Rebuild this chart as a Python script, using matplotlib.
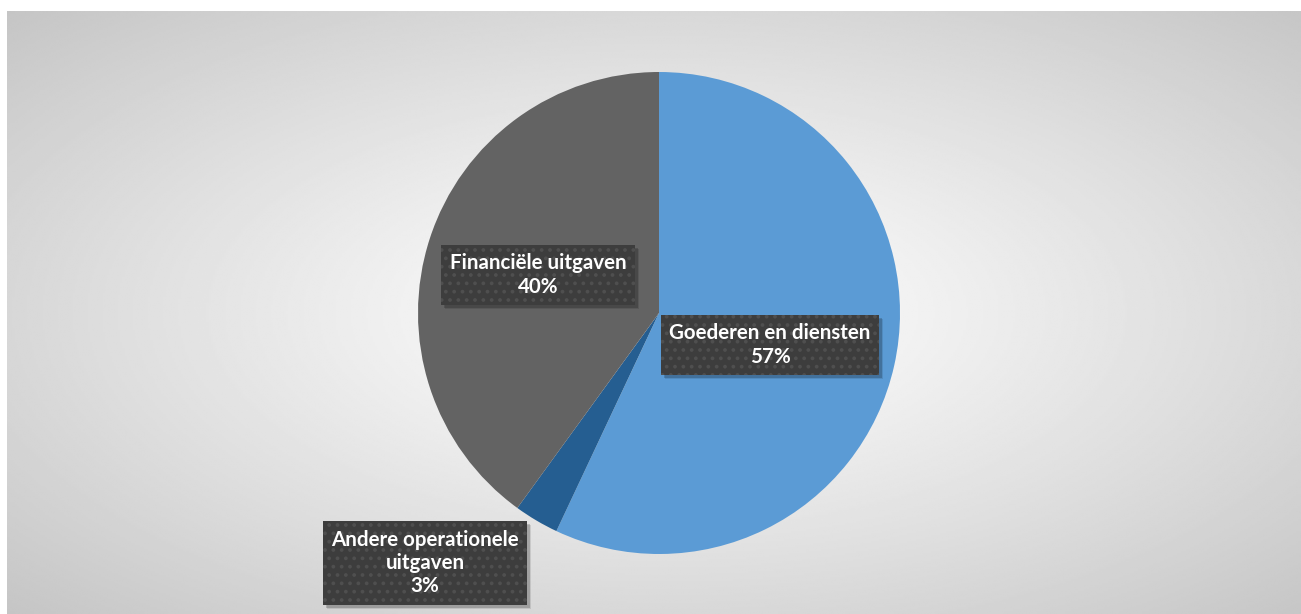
import numpy as np
import matplotlib
matplotlib.use("Agg")
import matplotlib.pyplot as plt
from matplotlib.patches import Rectangle

# spending split
categories = ["Goederen en diensten", "Andere operationele\nuitgaven", "Financiële uitgaven"]
shares = [57, 3, 40]
colors = ["#5B9BD5", "#255E91", "#636363"]

W, H = 1301, 614
plt.rcParams["font.family"] = ["Lato", "DejaVu Sans"]
plt.rcParams["hatch.linewidth"] = 1.5

fig = plt.figure(figsize=(W / 100, H / 100), dpi=100)
fig.patch.set_facecolor("white")

# radial grey backdrop
bg = fig.add_axes([7 / W, 0, 1 - 7 / W, (H - 11) / H])
bg.set_axis_off()
gx, gy = np.meshgrid(np.linspace(0, 1, 600), np.linspace(0, 1, 300))
cx, cy = 0.51, 0.50
r = np.sqrt(((gx - cx) / 0.52) ** 2 + ((gy - cy) / 0.52) ** 2)
r = np.clip(r / np.sqrt(2), 0, 1)
shade = 1.0 - 0.235 * r ** 1.1
bg.imshow(shade, cmap="gray", vmin=0, vmax=1, aspect="auto",
          extent=[0, 1, 0, 1], interpolation="bilinear")

ax = fig.add_axes([0, 0, 1, 1])
ax.set_axis_off()
ax.patch.set_alpha(0)

wedges, _ = ax.pie(shares, colors=colors, startangle=90, counterclock=False,
                   center=(659, H - 313), radius=241,
                   wedgeprops=dict(linewidth=0))
ax.set_xlim(0, W)
ax.set_ylim(0, H)
ax.set_aspect("equal")

label_pos = [(770, H - 345), (425, H - 563), (538, H - 275)]
labels = []
for name, val, (lx, ly) in zip(categories, shares, label_pos):
    t = ax.text(lx, ly, f"{name}\n{val}%", ha="center", va="center",
                color="white", fontsize=14.8, fontweight="bold",
                linespacing=1.2, zorder=5,
                bbox=dict(boxstyle="square,pad=0.42", facecolor="#3d3d3d",
                          edgecolor="#4f4f4f", hatch="..", linewidth=0))
    labels.append(t)

# drop shadow under each label box, placed from the rendered box extent
fig.canvas.draw()
for t in labels:
    bb = t.get_bbox_patch().get_window_extent()
    for k, a in ((4, 0.10), (3, 0.18)):
        ax.add_patch(Rectangle((bb.x0 + k, bb.y0 - k), bb.width, bb.height,
                               transform=None, facecolor="black", alpha=a,
                               linewidth=0, zorder=4))

fig.savefig("out.png", dpi=100)
